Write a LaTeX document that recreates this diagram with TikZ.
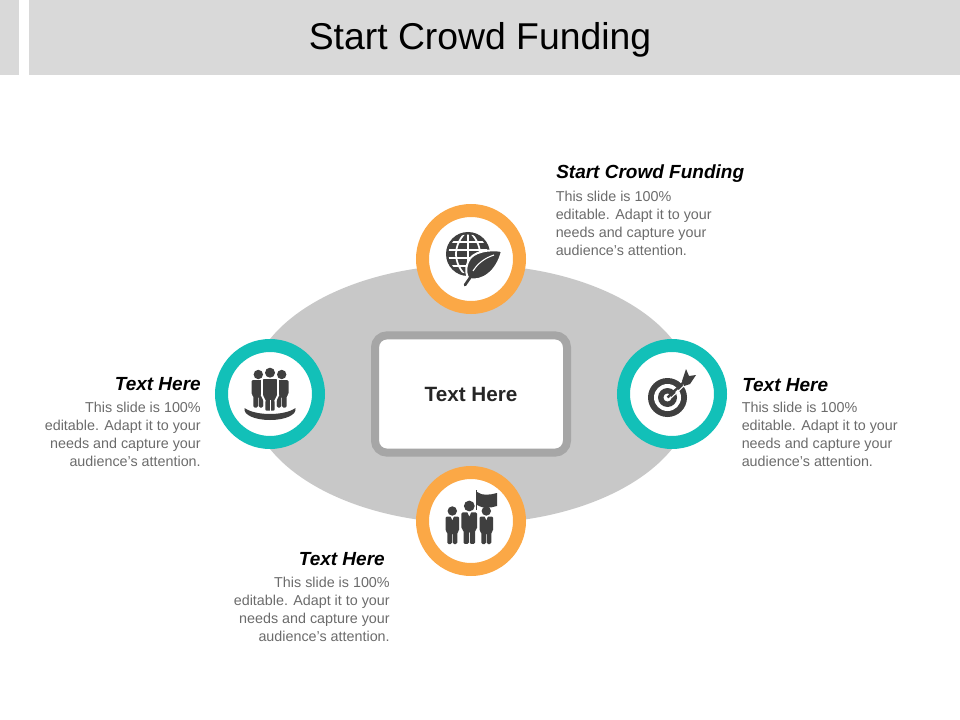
\documentclass[tikz,border=0pt]{standalone}
\usepackage{fontspec}
\setmainfont{Liberation Sans}
\usepackage{tikz}
\usetikzlibrary{shapes.geometric}
\definecolor{headgray}{HTML}{D9D9D9}
\definecolor{ovalgray}{HTML}{C8C8C8}
\definecolor{boxgray}{HTML}{A6A6A6}
\definecolor{ringorange}{HTML}{FBA846}
\definecolor{ringteal}{HTML}{12C0B8}
\definecolor{icondark}{HTML}{3F3F3F}
\definecolor{bodygray}{HTML}{6B6B6B}
\tikzset{
  ring/.style={circle,draw=#1,line width=9.75pt,fill=white,minimum size=72.75pt,inner sep=0pt},
  headtext/.style={font=\fontsize{14.25}{16}\selectfont\bfseries\itshape,text=black,inner sep=0pt},
  bodytext/.style={font=\fontsize{10.75}{13.5}\selectfont,text=bodygray,inner sep=0pt,align=#1},
}
% small figure: x, y of the head, scale
\newcommand{\plainman}[3]{
  \fill[icondark] (#1,#2) circle (4.7*#3);
  \fill[icondark,rounded corners=1pt] (#1-6.8*#3,#2+5.5*#3) -- (#1+6.8*#3,#2+5.5*#3)
     -- (#1+6.8*#3,#2+20*#3) -- (#1+5*#3,#2+21*#3) -- (#1+5*#3,#2+33*#3) -- (#1+0.4*#3,#2+33*#3)
     -- (#1+0.4*#3,#2+22*#3) -- (#1-0.4*#3,#2+22*#3) -- (#1-0.4*#3,#2+33*#3) -- (#1-5*#3,#2+33*#3)
     -- (#1-5*#3,#2+21*#3) -- (#1-6.8*#3,#2+20*#3) -- cycle;
}
% same figure with a collar
\newcommand{\suitman}[3]{
  \plainman{#1}{#2}{#3}
  \fill[white] (#1-1.8*#3,#2+5*#3) -- (#1+1.8*#3,#2+5*#3) -- (#1,#2+9*#3) -- cycle;
}
\begin{document}
\begin{tikzpicture}[x=0.75pt,y=-0.75pt]
  \useasboundingbox (0,0) rectangle (960,720);
  % header
  \fill[headgray] (0,0) rectangle (19,75);
  \fill[headgray] (29,0) rectangle (960,75);
  \node[font=\fontsize{28}{32}\selectfont,text=black,inner sep=0pt] (title) at (480,39.5) {Start Crowd Funding};
  % oval and centre box
  \node[ellipse,fill=ovalgray,minimum width=333pt,minimum height=194pt,inner sep=0pt] (oval) at (471,394) {};
  \node[draw=boxgray,fill=white,line width=6pt,rounded corners=9pt,minimum width=144pt,minimum height=88pt,
        inner sep=0pt,font=\fontsize{15.5}{18}\selectfont\bfseries,text=black!85] (centre) at (471,394) {Text Here};
  % rings
  \node[ring=ringorange] (top) at (471,259) {};
  \node[ring=ringteal] (left) at (270,394) {};
  \node[ring=ringteal] (right) at (672,394) {};
  \node[ring=ringorange] (bottom) at (471,521) {};
  % globe and leaf
  \fill[icondark] (468,254) circle (22);
  \begin{scope}
    \clip (468,254) circle (19.5);
    \foreach \dy in {-12,-4,4,12} {\draw[white,line width=1.3pt] (440,254+\dy) -- (496,254+\dy);}
    \draw[white,line width=1.3pt] (468,230) -- (468,278);
    \draw[white,line width=1.3pt] (468,230) .. controls (452,245) and (452,263) .. (468,278);
    \draw[white,line width=1.3pt] (468,230) .. controls (484,245) and (484,263) .. (468,278);
  \end{scope}
  \fill[icondark,draw=white,line width=1.5pt] (502,251) .. controls (490,249) and (472,251) .. (468,262)
     .. controls (465,270) and (466,275) .. (469,279) .. controls (482,282) and (497,272) .. (502,251) -- cycle;
  \draw[icondark,line width=2pt,line cap=round] (465,285) -- (474,272);
  \draw[white,line width=0.8pt] (473,271) .. controls (478,263) and (485,258) .. (494,255);
  % people on a stand
  \plainman{258.3}{374.5}{1.0}
  \plainman{281.7}{374.5}{1.0}
  \draw[white,line width=1.2pt,fill=icondark,rounded corners=1.5pt] (262,378) -- (278,378) -- (278,397) -- (275.5,399) -- (275.5,411.5) -- (264.5,411.5) -- (264.5,399) -- (262,397) -- cycle;
  \fill[white] (269.6,400) rectangle (270.4,411);
  \fill[icondark] (270,372.7) circle (5);
  \fill[icondark] (244.5,408) .. controls (250,412) and (260,414) .. (270,414) .. controls (280,414) and (290,412) .. (295.5,408)
     .. controls (297,415) and (285,420) .. (270,420) .. controls (255,420) and (243,415) .. (244.5,408) -- cycle;
  % target and dart
  \fill[icondark] (667.5,397.5) circle (19.5);
  \fill[white] (667.5,397.5) circle (13.5);
  \fill[icondark] (667.5,397.5) circle (9.5);
  \fill[white] (667.5,397.5) circle (4);
  \draw[icondark,line width=1.8pt] (667.5,397.5) -- (686,380);
  \draw[white,line width=0.8pt] (671,398) -- (687,383);
  \fill[icondark] (682,381) -- (686,369) -- (689,376) -- (696,375) -- (690,384) -- (684,386) -- cycle;
  % team and flag
  \fill[icondark] (475.5,490) rectangle (477,510);
  \fill[icondark] (477,492) .. controls (482,496) and (490,495) .. (497,493) -- (497,506) .. controls (490,508) and (483,509) .. (477,505) -- cycle;
  \suitman{452.3}{511}{1.0}
  \suitman{486.3}{511}{1.0}
  \suitman{469.3}{506}{1.15}
  % labels
  \node[headtext,anchor=west] (toph) at (556,174) {Start Crowd Funding};
  \node[bodytext=left,anchor=north west] (topb) at (555.5,191) {This slide is 100\%\\editable. Adapt it to your\\needs and capture your\\audience's attention.};
  \node[headtext,anchor=west] (righth) at (742,385) {Text Here};
  \node[bodytext=left,anchor=north west] (rightb) at (741.5,402) {This slide is 100\%\\editable. Adapt it to your\\needs and capture your\\audience's attention.};
  \node[headtext,anchor=east] (lefth) at (201,384) {Text Here};
  \node[bodytext=right,anchor=north east] (leftb) at (201,402) {This slide is 100\%\\editable. Adapt it to your\\needs and capture your\\audience's attention.};
  \node[headtext,anchor=east] (bottomh) at (385,559) {Text Here};
  \node[bodytext=right,anchor=north east] (bottomb) at (390,577) {This slide is 100\%\\editable. Adapt it to your\\needs and capture your\\audience's attention.};
\end{tikzpicture}
\end{document}
